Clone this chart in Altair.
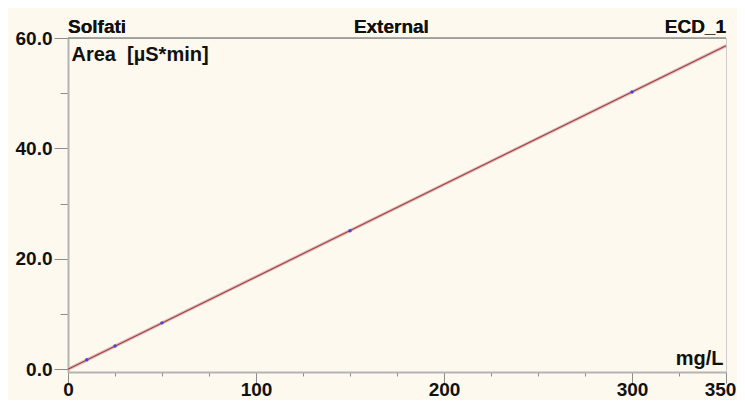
import altair as alt
import pandas as pd

# Calibration standards (mg/L) and measured areas (µS*min)
std_conc = [10, 25, 50, 150, 300]
std_area = [1.7, 4.2, 8.4, 25.1, 50.2]

# Fitted calibration line end points
fit_conc = [0, 350]
fit_area = [0.0, 58.6]

x_ticks = list(range(0, 351, 25))
y_ticks = list(range(0, 61, 5))

FONT = "Liberation Sans"
BG = "#FDF9EE"
FS = 19

pts = pd.DataFrame({"c": std_conc, "a": std_area})
fit = pd.DataFrame({"c": fit_conc, "a": fit_area})

xs = alt.Scale(domain=[0, 350], nice=False, zero=False)
ys = alt.Scale(domain=[-0.5, 60], nice=False, zero=False)

XMAJ = "datum.value % 100 === 0 || datum.value === 350"
x_axis = alt.Axis(
    values=x_ticks,
    labelExpr="(" + XMAJ + ") ? datum.value : ''",
    tickSize={"condition": {"test": XMAJ, "value": 11}, "value": 4},
    labelOffset={"condition": {"test": "datum.value === 350", "value": -6}, "value": 0},
    title="mg/L", titleX=655, titleY=-8, titleAlign="right", titleBaseline="alphabetic",
    titleAngle=0,
    grid=False, labelFlush=False, labelOverlap=False,
)
y_axis = alt.Axis(
    values=y_ticks,
    labelExpr="datum.value % 20 === 0 ? format(datum.value, '.1f') : ''",
    tickSize={"condition": {"test": "datum.value % 20 === 0", "value": 14}, "value": 8},
    title="Area\u00a0\u00a0[µS*min]", titleX=3, titleY=22, titleAlign="left",
    titleBaseline="alphabetic", titleAngle=0,
    grid=False, labelFlush=False, labelOverlap=False,
)

band = alt.Chart(fit).mark_line(color="#DDB0B0", strokeWidth=3.2, opacity=0.85).encode(
    x=alt.X("c:Q", scale=xs, axis=x_axis),
    y=alt.Y("a:Q", scale=ys, axis=y_axis),
)
line = alt.Chart(fit).mark_line(color="#9E4040", strokeWidth=1.1).encode(
    x=alt.X("c:Q", scale=xs),
    y=alt.Y("a:Q", scale=ys),
)
dots = alt.Chart(pts).mark_point(filled=True, size=12, color="#4646E6", opacity=1).encode(
    x=alt.X("c:Q", scale=xs),
    y=alt.Y("a:Q", scale=ys),
)
top_rule = alt.Chart(fit).mark_rule(color="#8C8C8C", strokeWidth=1).encode(
    y=alt.datum(60, scale=ys),
)

def label(txt, xval, align):
    return alt.Chart(fit).mark_text(
        text=txt, align=align, baseline="alphabetic", dy=-5,
        font=FONT, fontSize=FS, fontWeight="bold", color="#111111",
    ).encode(x=alt.datum(xval, scale=xs), y=alt.datum(60, scale=ys))

t1 = label("Solfati", 0, "left")
t2 = label("External", 172, "center")
t3 = label("ECD_1", 350, "right")

chart = alt.layer(band, line, dots, top_rule, t1, t2, t3).properties(
    width=658, height=334,
    autosize=alt.AutoSizeParams(type="none"),
    padding={"left": 60, "top": 30, "right": 11, "bottom": 28},
    background=BG,
).configure_view(
    stroke="#CCCCCC", strokeWidth=1, fill=BG,
).configure_axis(
    domainColor="#B4B4B4", domainWidth=2,
    tickColor="#8C8C8C", tickWidth=1,
    labelFont=FONT, labelFontSize=FS, labelFontWeight="bold", labelColor="#111111",
    titleFont=FONT, titleFontSize=20, titleFontWeight="bold", titleColor="#111111",
).configure_axisY(labelPadding=2).configure_axisX(labelPadding=-3)

chart.save("out.html", embed_options={"renderer": "svg", "actions": False})
